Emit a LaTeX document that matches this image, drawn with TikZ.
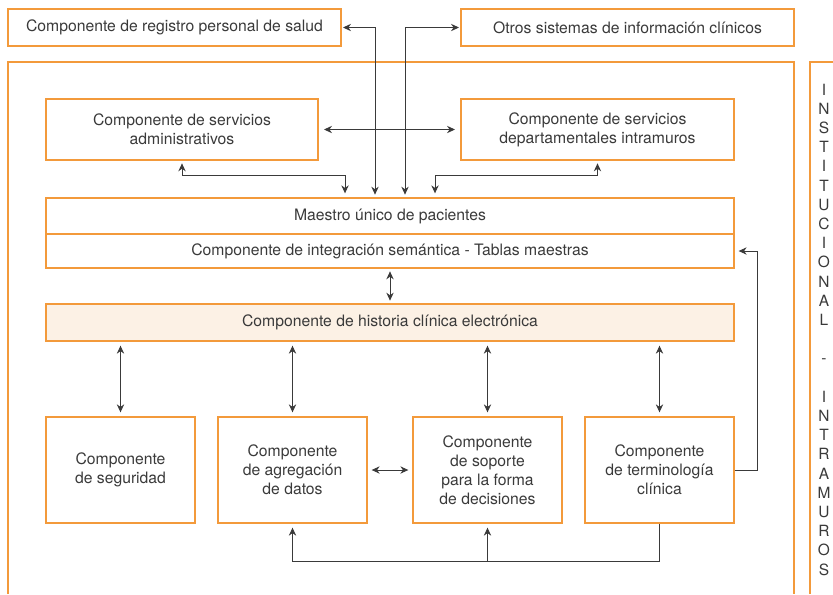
\documentclass[tikz,border=0pt]{standalone}
\usepackage{fontspec}
\setmainfont{TeX Gyre Heros}
\usetikzlibrary{arrows.meta}
\definecolor{naranja}{HTML}{F39A3B}
\definecolor{crema}{HTML}{FCF1E5}
\definecolor{texto}{HTML}{3A3A3A}
\tikzset{
    caja/.style={draw=naranja, line width=1pt, text=texto, align=center, inner sep=0pt},
    flecha/.style={draw=texto, line width=0.75pt, -{Stealth[length=6pt,width=5.5pt]}, shorten >=2pt},
    dflecha/.style={draw=texto, line width=0.75pt, {Stealth[length=6pt,width=5.5pt]}-{Stealth[length=6pt,width=5.5pt]}, shorten >=2pt, shorten <=2pt}
}
\begin{document}
\begin{tikzpicture}[x=0.75pt, y=-0.75pt, font=\fontsize{11.8}{14.3}\selectfont]
        \useasboundingbox (0,0) rectangle (833,594);
        % Draw the outer frames
        \draw[naranja, line width=1pt] (8,594) -- (8,62) -- (794,62) -- (794,594);
        \draw[naranja, line width=1pt] (810,594) -- (810,62) -- (833,62);
        \node[text=texto, align=center, font=\fontsize{11.6}{14.4}\selectfont] (instit) at (824,329.5)
            {I\\N\\S\\T\\I\\T\\U\\C\\I\\O\\N\\A\\L\\\mbox{}\\-\\\mbox{}\\I\\N\\T\\R\\A\\M\\U\\R\\O\\S};
        % Define the boxes
        \node[caja, minimum width=249.75pt, minimum height=27.75pt] (reg) at (174.5,27.5) {Componente de registro personal de salud};
        \node[caja, minimum width=249.75pt, minimum height=27.75pt] (otros) at (627.5,27.5) {Otros sistemas de información clínicos};
        \node[caja, minimum width=204pt, minimum height=45.75pt] (admin) at (182,129.5) {Componente de servicios\\administrativos};
        \node[caja, minimum width=204.75pt, minimum height=45.75pt] (depto) at (597.5,129.5) {Componente de servicios\\departamentales intramuros};
        \node[caja, minimum width=516pt, minimum height=27pt] (maestro) at (390,216) {Maestro único de pacientes};
        \node[caja, minimum width=516pt, minimum height=25.5pt] (semant) at (390,251) {Componente de integración semántica - Tablas maestras};
        \node[caja, fill=crema, minimum width=516pt, minimum height=27.75pt] (hce) at (390,322.5) {Componente de historia clínica electrónica};
        \node[caja, minimum width=111.75pt, minimum height=79.5pt] (seg) at (120.5,470) {Componente\\de seguridad};
        \node[caja, minimum width=111.75pt, minimum height=79.5pt] (agreg) at (292.5,470) {Componente\\de agregación\\de datos};
        \node[caja, minimum width=111.75pt, minimum height=79.5pt] (soporte) at (487.5,470) {Componente\\de soporte\\para la forma\\de decisiones};
        \node[caja, minimum width=111.75pt, minimum height=79.5pt] (termin) at (659.5,470) {Componente\\de terminología\\clínica};
        % Connect the boxes
        \draw[dflecha, shorten <=1pt] (reg.east) -| ([xshift=-11.25pt]maestro.north);
        \draw[dflecha, shorten <=1pt] (otros.west) -| ([xshift=11.25pt]maestro.north);
        \draw[dflecha, shorten >=3pt] (admin.south) -- ++(0,15) -| ([xshift=-33.75pt]maestro.north);
        \draw[dflecha, shorten >=3pt] (depto.south) -- ++(0,15) -| ([xshift=33.75pt]maestro.north);
        \draw[dflecha, shorten <=4pt, shorten >=4pt] (admin.east) -- (depto.west);
        \draw[dflecha] (semant.south) -- (hce.north);
        \foreach \b in {seg, agreg, soporte, termin}
            \draw[dflecha, shorten <=3pt, shorten >=3pt] (hce.south -| \b.north) -- (\b.north);
        \draw[dflecha, shorten <=3pt, shorten >=3pt] (agreg.east) -- (soporte.west);
        \draw[flecha, shorten >=3pt] (termin.east) -- ++(23,0) |- (semant.east);
        \draw[flecha, shorten >=3pt] (termin.south) -- ++(0,38) coordinate (bus) -| (agreg.south);
        \draw[flecha, shorten >=3pt] (bus -| soporte.south) -- (soporte.south);
    \end{tikzpicture}
\end{document}
